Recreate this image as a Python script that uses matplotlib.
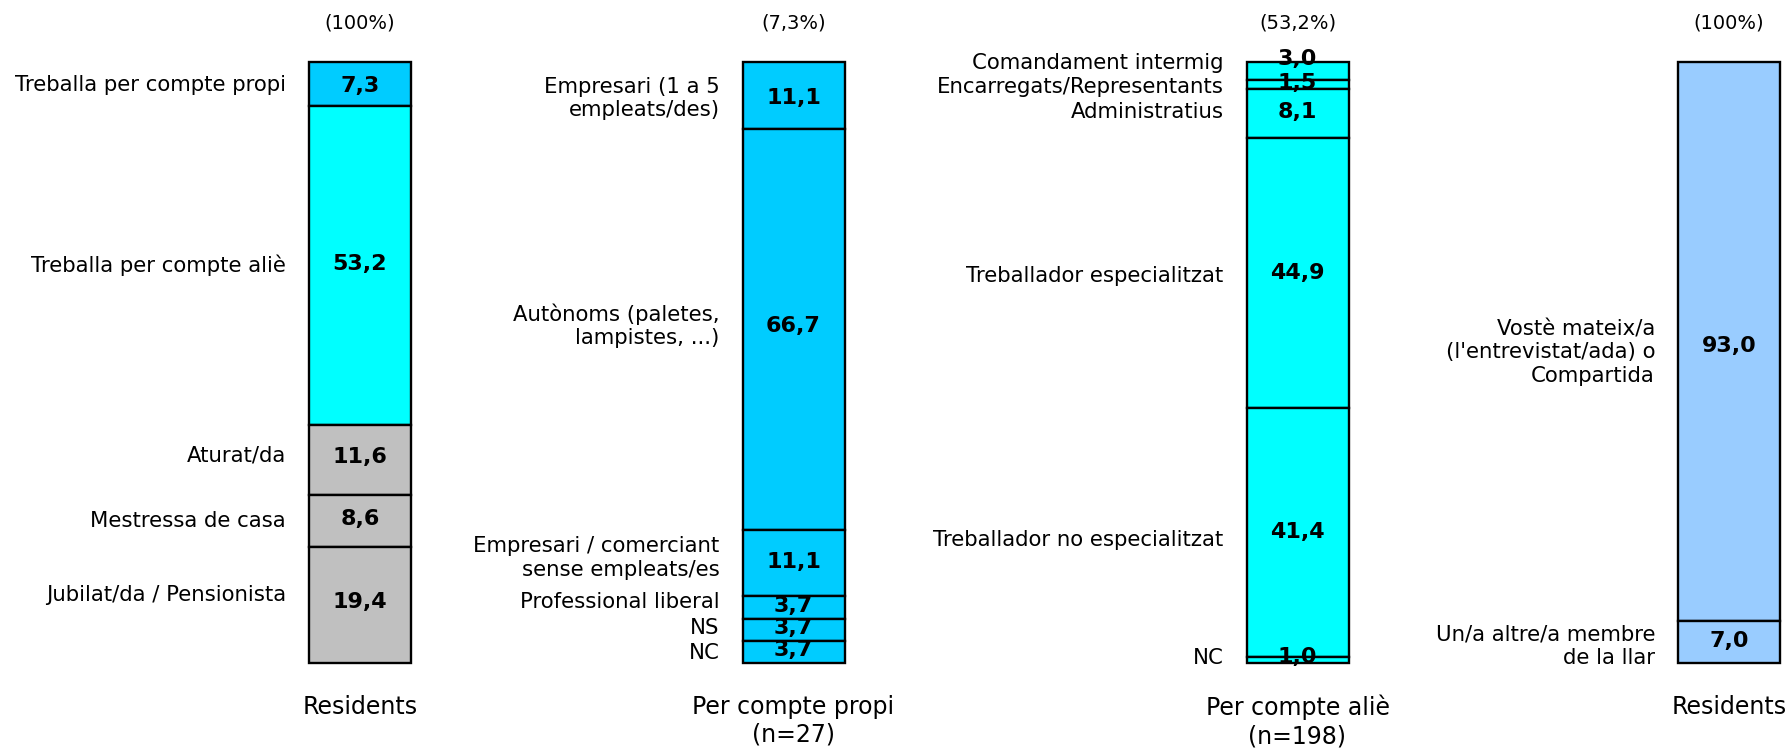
#! /usr/bin/env python

import numpy as np
import matplotlib.pyplot as plt

# data
res_cats = ["Treballa per compte propi", "Treballa per compte aliè", "Aturat/da",
            "Mestressa de casa", "Jubilat/da / Pensionista"]
res_vals = [7.3, 53.2, 11.6, 8.6, 19.4]

propi_cats = ["Empresari (1 a 5\nempleats/des)", "Autònoms (paletes,\nlampistes, ...)",
              "Empresari / comerciant\nsense empleats/es", "Professional liberal", "NS", "NC"]
propi_vals = [11.1, 66.7, 11.1, 3.7, 3.7, 3.7]

alie_cats = ["Comandament intermig", "Encarregats/Representants", "Administratius",
             "Treballador especialitzat", "Treballador no especialitzat", "NC"]
alie_vals = [3.0, 1.5, 8.1, 44.9, 41.4, 1.0]

resp_cats = ["Vostè mateix/a\n(l'entrevistat/ada) o\nCompartida", "Un/a altre/a membre\nde la llar"]
resp_vals = [93.0, 7.0]

bar_titles = ["(100%)", "(7,3%)", "(53,2%)", "(100%)"]
bar_names = ["Residents", "Per compte propi\n(n=27)", "Per compte aliè\n(n=198)", "Residents"]

# colours
c_propi = "#00CCFF"
c_alie = "#00FFFF"
c_grey = "#C0C0C0"
c_resp = "#99CCFF"

bars = [
    (res_cats, res_vals, [c_propi, c_alie, c_grey, c_grey, c_grey]),
    (propi_cats, propi_vals, [c_propi] * 6),
    (alie_cats, alie_vals, [c_alie] * 6),
    (resp_cats, resp_vals, [c_resp] * 2),
]

# layout (pixels of the 1789x748 canvas)
W, H = 1789, 748
xcent = [360, 793.5, 1297.5, 1729]
bw = 102
top_px, bot_px = 62, 663
gap = 23
# small vertical nudges of texts, in pixels (positive = down)
lab_dy = [[1, 0, -5, 0, -10], [3, -3, -5, -5, -2, 1], [-8, 2, -1, 3, 8, -2], [11, 4]]
val_dy = [[2, -2, -3, -2, -3], [3, -3, -1, -1, -2, -2], [-12, -2, -1, 0, 0, -3], [5, -1]]

upp = 100.0 / (bot_px - top_px)          # data units per pixel
ytop = 100 + top_px * upp
ybot = -(H - bot_px) * upp

fig = plt.figure(figsize=(W / 100, H / 100), dpi=100)
ax = fig.add_axes([0, 0, 1, 1])
ax.set_xlim(0, W)
ax.set_ylim(ybot, ytop)
ax.axis('off')

for i, (cats, vals, cols) in enumerate(bars):
    v = np.array(vals)
    h = v * 100.0 / v.sum()
    bottoms = 100 - np.cumsum(h)
    ax.bar([xcent[i]] * len(h), h, bottom=bottoms, width=bw, color=cols,
           edgecolor='black', linewidth=1.7)
    mids = bottoms + h / 2
    for j in range(len(h)):
        ax.text(xcent[i], mids[j] - val_dy[i][j] * upp, ("%.1f" % vals[j]).replace('.', ','),
                ha='center', va='center', fontsize=16, fontweight='bold')
        ax.text(xcent[i] - bw / 2 - gap, mids[j] - lab_dy[i][j] * upp, cats[j],
                ha='right', va='center', fontsize=15.3, linespacing=1.2)
    ax.text(xcent[i], 100 + (top_px - 23) * upp, bar_titles[i],
            ha='center', va='center', fontsize=14)
    ax.text(xcent[i], -(695 - bot_px) * upp, bar_names[i],
            ha='center', va='top', fontsize=17, linespacing=1.2)

plt.savefig('out.png', dpi=100)
